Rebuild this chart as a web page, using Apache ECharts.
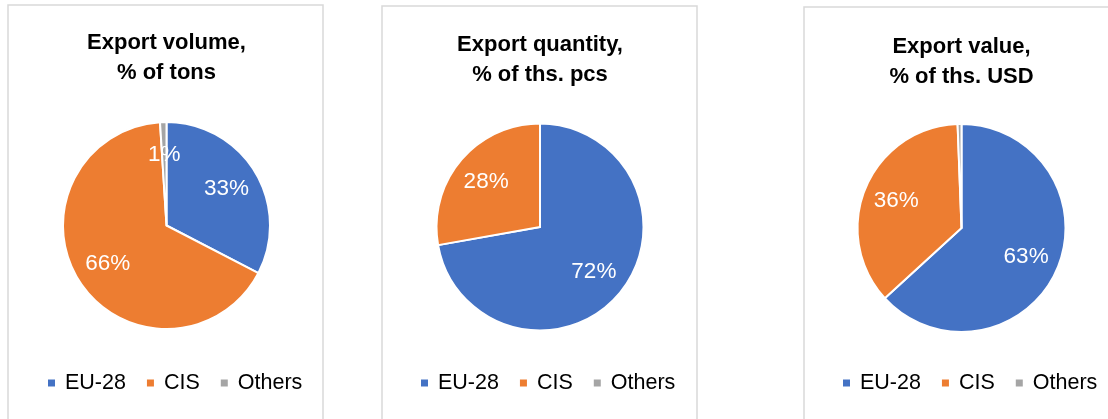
<!DOCTYPE html>
<html>
<head>
<meta charset="utf-8">
<script src="https://cdn.jsdelivr.net/npm/echarts@6/dist/echarts.min.js"></script>
<style>
html,body{margin:0;padding:0;background:#fff;}
#chart{width:1108px;height:419px;}
</style>
</head>
<body>
<div id="chart"></div>
<script>
// ---- data ----
const categories = ['EU-28', 'CIS', 'Others'];
const volumeShares = [32.6, 66.4, 1.0];     // % of tons
const quantityShares = [72.2, 27.8, 0];     // % of ths. pcs
const valueShares = [63.2, 36.2, 0.6];      // % of ths. USD
const chartTitles = ['Export volume,\n% of tons', 'Export quantity,\n% of ths. pcs', 'Export value,\n% of ths. USD'];
const sliceColors = ['#4472C4', '#ED7D31', '#A5A5A5'];

// ---- layout ----
const FONT = '"Liberation Sans", Arial, sans-serif';
const panels = [
  { box: [8, 5, 315], center: [166.5, 225.5], r: 103.5, titleX: 166.5, titleY: 28, legendX: 46, values: volumeShares },
  { box: [382, 6, 315], center: [540, 227], r: 103.5, titleX: 540, titleY: 30, legendX: 419, values: quantityShares },
  { box: [804, 7, 320], center: [961.5, 228], r: 104, titleX: 961.5, titleY: 32, legendX: 841, values: valueShares }
];

const chart = echarts.init(document.getElementById('chart'), null, { renderer: 'canvas' });

const series = [];
const titles = [];
const legends = [];
const graphics = [];

panels.forEach((p, i) => {
  const data = categories.map((name, k) => ({ name: name, value: p.values[k] }));
  graphics.push({
    type: 'rect', silent: true, z: -10,
    shape: { x: p.box[0], y: p.box[1], width: p.box[2], height: 500 },
    style: { fill: '#fff', stroke: '#d9d9d9', lineWidth: 1.5 }
  });
  titles.push({
    text: chartTitles[i], left: p.titleX, top: p.titleY, textAlign: 'center', padding: 0,
    textStyle: { fontFamily: FONT, fontSize: 22, fontWeight: 'bold', color: '#000', lineHeight: 30 }
  });
  legends.push({
    data: categories, left: p.legendX, top: 371, padding: 0, orient: 'horizontal',
    icon: 'rect', itemWidth: 9, itemHeight: 9, itemGap: 19, selectedMode: false,
    textStyle: { fontFamily: FONT, fontSize: 21.5, color: '#000', lineHeight: 24, padding: [0, 0, 0, 4] }
  });
  series.push({
    type: 'pie', center: p.center, radius: p.r, startAngle: 90, clockwise: true,
    silent: true, animation: false, avoidLabelOverlap: false,
    color: sliceColors,
    itemStyle: { borderColor: '#fff', borderWidth: 2 },
    label: { show: false }, labelLine: { show: false },
    emphasis: { disabled: true },
    data: data
  });
  // label ring: same data, labels placed at ~0.65 of the pie radius
  series.push({
    type: 'pie', center: p.center, radius: p.r * 1.3, startAngle: 90, clockwise: true,
    silent: true, animation: false, avoidLabelOverlap: false, z: 5,
    itemStyle: { color: 'rgba(0,0,0,0)', borderWidth: 0 },
    label: {
      show: true, position: 'inside', color: '#fff', fontFamily: FONT, fontSize: 22.5,
      formatter: (d) => d.value >= 1 ? Math.round(d.value) + '%' : ''
    },
    labelLine: { show: false },
    emphasis: { disabled: true },
    data: data
  });
});

chart.setOption({
  backgroundColor: '#fff',
  animation: false,
  color: sliceColors,
  title: titles,
  legend: legends,
  graphic: graphics,
  series: series
});
</script>
</body>
</html>
